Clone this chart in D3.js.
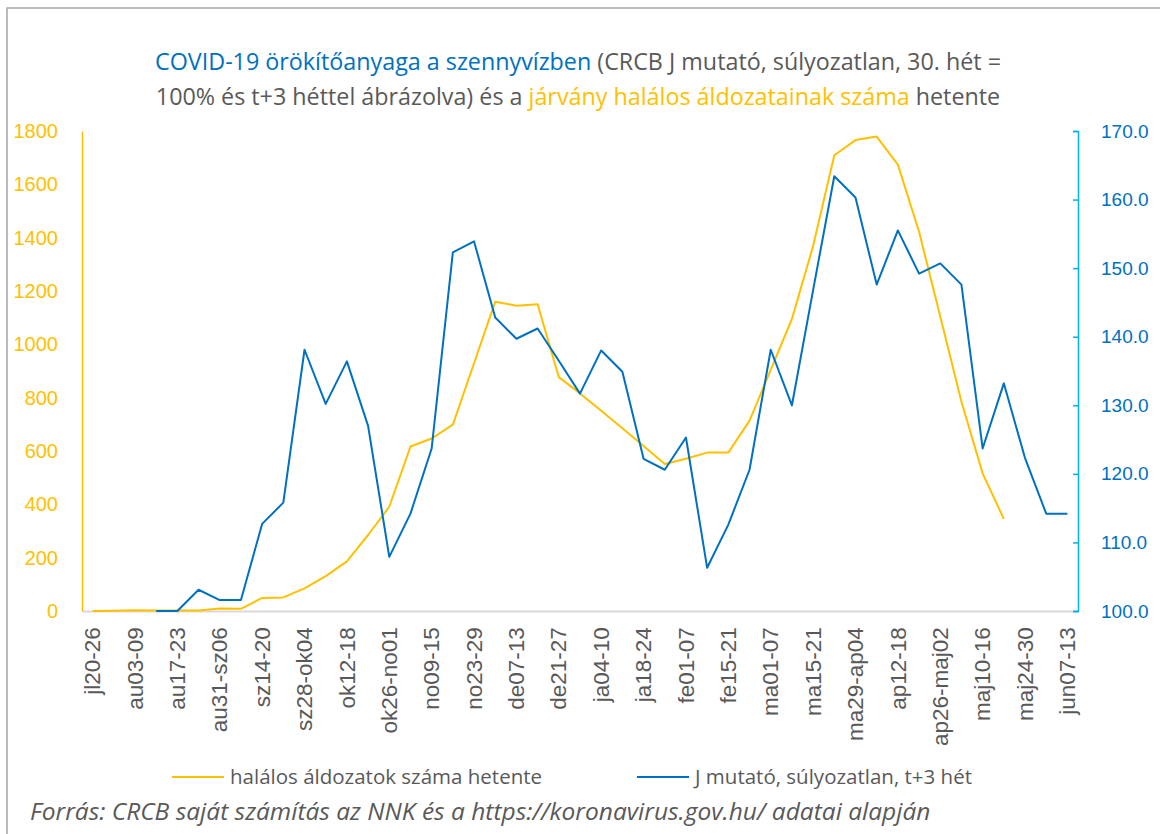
<!DOCTYPE html>
<html>
<head>
<meta charset="utf-8">
<script src="https://cdn.jsdelivr.net/npm/d3@7"></script>
<style>
  body { margin: 0; background: #fff; }
  svg { font-family: "Open Sans", "Noto Sans", sans-serif; }
</style>
</head>
<body>
<div id="chart"></div>
<script>
// weekly categories (every other one is labelled on the axis)
var weeks = ["jl20-26", "jl27-au02", "au03-09", "au10-16", "au17-23", "au24-30", "au31-sz06", "sz07-13",
  "sz14-20", "sz21-27", "sz28-ok04", "ok05-11", "ok12-18", "ok19-25", "ok26-no01", "no02-08",
  "no09-15", "no16-22", "no23-29", "no30-de06", "de07-13", "de14-20", "de21-27", "de28-ja03",
  "ja04-10", "ja11-17", "ja18-24", "ja25-31", "fe01-07", "fe08-14", "fe15-21", "fe22-28",
  "ma01-07", "ma08-14", "ma15-21", "ma22-28", "ma29-ap04", "ap05-11", "ap12-18", "ap19-25",
  "ap26-maj02", "maj03-09", "maj10-16", "maj17-23", "maj24-30", "maj31-jun06", "jun07-13"];

// halálos áldozatok száma hetente (left axis)
var deaths = [0, 1, 3, 2, 2, 2, 9, 8, 49, 51, 85, 131, 186, 285, 391, 617,
  647, 699, 929, 1160, 1145, 1150, 877, 816, 751, 685, 619, 551, 571, 594, 594, 714,
  904, 1095, 1369, 1709, 1766, 1779, 1674, 1422, 1104, 785, 516, 345, null, null, null];

// J mutató, súlyozatlan, t+3 hét (right axis)
var jIndex = [null, null, null, 100.0, 100.0, 103.1, 101.6, 101.6, 112.7, 115.8, 138.1, 130.2, 136.4, 127.0, 107.9, 114.2,
  123.7, 152.3, 153.9, 142.8, 139.7, 141.2, 136.5, 131.7, 138.0, 134.9, 122.2, 120.6, 125.3, 106.3, 112.6, 120.6,
  138.1, 130.0, 146.8, 163.4, 160.3, 147.6, 155.5, 149.2, 150.7, 147.6, 123.7, 133.2, 122.3, 114.2, 114.2];

var leftTicks = [0, 200, 400, 600, 800, 1000, 1200, 1400, 1600, 1800];
var rightTicks = [100, 110, 120, 130, 140, 150, 160, 170];

var yellow = "#FFC000", blue = "#0070C0", grey = "#595959";

var W = 1160, H = 834;
var margin = { top: 131, right: 82, bottom: 223, left: 82 },
    width = W - margin.left - margin.right,
    height = H - margin.top - margin.bottom;

var svg = d3.select("#chart")
    .append("svg")
    .attr("width", W)
    .attr("height", H);

// chart border
svg.append("rect")
    .attr("x", 7).attr("y", 8)
    .attr("width", 1300).attr("height", 1000)
    .attr("fill", "none")
    .attr("stroke", "#a6a6a6")
    .attr("stroke-width", 1.5);

// title
var title = svg.append("text")
    .attr("text-anchor", "middle")
    .attr("font-size", "23.3px")
    .attr("fill", grey);
var t1 = title.append("tspan").attr("x", W / 2 - 2).attr("y", 70);
t1.append("tspan").attr("fill", blue).text("COVID-19 örökítőanyaga a szennyvízben");
t1.append("tspan").text(" (CRCB J mutató, súlyozatlan, 30. hét =");
var t2 = title.append("tspan").attr("x", W / 2 - 2).attr("y", 105);
t2.append("tspan").text("100% és t+3 héttel ábrázolva) és a ");
t2.append("tspan").attr("fill", yellow).text("járvány halálos áldozatainak száma");
t2.append("tspan").text(" hetente");

var g = svg.append("g")
    .attr("transform", "translate(" + margin.left + "," + margin.top + ")");

var x = d3.scaleBand()
    .domain(weeks)
    .range([0, width]);

var yL = d3.scaleLinear().domain([0, 1800]).range([height, 0]);
var yR = d3.scaleLinear().domain([100, 170]).range([height, 0]);

// x axis
var xAxis = g.append("g")
    .attr("transform", "translate(0," + height + ")")
    .call(d3.axisBottom(x)
        .tickValues(weeks.filter(function (d, i) { return i % 2 == 0; }))
        .tickSize(0)
        .tickPadding(0));
xAxis.select(".domain").attr("stroke", "#d9d9d9").attr("stroke-width", 2);
xAxis.selectAll("text")
    .attr("font-size", "22.5px")
    .attr("fill", grey)
    .style("text-anchor", "end")
    .attr("dx", "-0.72em")
    .attr("dy", "0.34em")
    .attr("transform", "rotate(-90)");

// left axis
var axL = g.append("g")
    .call(d3.axisLeft(yL).tickValues(leftTicks).tickSize(0).tickPadding(24)
        .tickFormat(d3.format("d")));
axL.select(".domain").attr("stroke", yellow).attr("stroke-width", 1.5);
axL.selectAll("text").attr("font-size", "20px").attr("fill", yellow);

// right axis
var axR = g.append("g")
    .attr("transform", "translate(" + width + ",0)")
    .call(d3.axisRight(yR).tickValues(rightTicks).tickSize(-5).tickPadding(23)
        .tickFormat(d3.format(".1f")));
axR.select(".domain").attr("stroke", "#00B0F0").attr("stroke-width", 1.5);
axR.selectAll(".tick line").attr("stroke", "#00B0F0").attr("stroke-width", 1.5);
axR.selectAll("text").attr("font-size", "19px").attr("fill", blue);

// lines
var lineL = d3.line()
    .defined(function (d) { return d != null; })
    .x(function (d, i) { return x(weeks[i]) + x.bandwidth() / 2; })
    .y(function (d) { return yL(d); });

var lineR = d3.line()
    .defined(function (d) { return d != null; })
    .x(function (d, i) { return x(weeks[i]) + x.bandwidth() / 2; })
    .y(function (d) { return yR(d); });

g.append("path")
    .datum(deaths)
    .attr("fill", "none")
    .attr("stroke", yellow)
    .attr("stroke-width", 2)
    .attr("stroke-linejoin", "round")
    .attr("d", lineL);

g.append("path")
    .datum(jIndex)
    .attr("fill", "none")
    .attr("stroke", blue)
    .attr("stroke-width", 2)
    .attr("stroke-linejoin", "round")
    .attr("d", lineR);

// legend
var legend = [
    { name: "halálos áldozatok száma hetente", color: yellow, x: 172 },
    { name: "J mutató, súlyozatlan, t+3 hét", color: blue, x: 637 }
];
var lg = svg.append("g")
    .selectAll("legend")
    .data(legend)
    .enter()
    .append("g")
    .attr("transform", function (d) { return "translate(" + d.x + ",777)"; });
lg.append("line")
    .attr("x1", 0).attr("x2", 52)
    .attr("stroke", function (d) { return d.color; })
    .attr("stroke-width", 2);
lg.append("text")
    .attr("x", 58)
    .attr("dy", "0.35em")
    .attr("font-size", "20.5px")
    .attr("fill", grey)
    .text(function (d) { return d.name; });

// source
svg.append("text")
    .attr("x", 30)
    .attr("y", 820)
    .attr("font-size", "24.5px")
    .attr("font-style", "italic")
    .attr("fill", grey)
    .text("Forrás: CRCB saját számítás az NNK és a https://koronavirus.gov.hu/ adatai alapján");
</script>
</body>
</html>
